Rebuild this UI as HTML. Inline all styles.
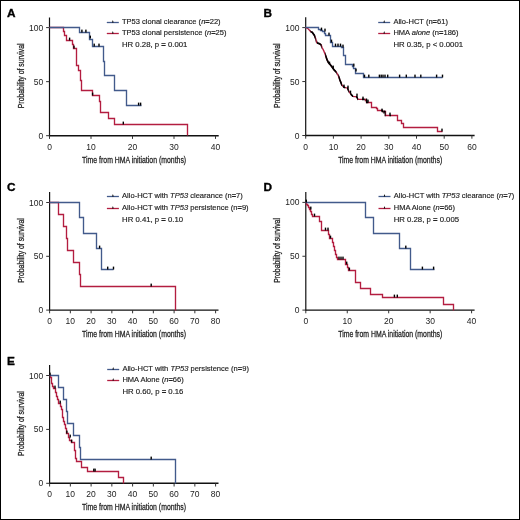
<!DOCTYPE html><html><head><meta charset="utf-8"><style>
html,body{margin:0;padding:0;background:#fff}
svg{display:block;will-change:transform} text{font-family:'Liberation Sans',sans-serif;fill:#222} .tk{font-size:8.5px} .ti{font-size:9.6px;stroke:#222;stroke-width:0.28px} .lg{font-size:7.7px;stroke:#222;stroke-width:0.16px} .pl{font-size:11.8px;font-weight:bold;fill:#000;stroke:#000;stroke-width:0.35px}
</style></head><body>
<svg width="520" height="520" viewBox="0 0 520 520">
<rect x="0.5" y="0.5" width="519" height="519" fill="#fff" stroke="#000" stroke-width="1"/>
<text x="7.1" y="17" class="pl">A</text>
<path d="M49.5,17.5V136.4" stroke="#111" stroke-width="1.2" fill="none"/>
<path d="M48.9,135.7H218.7" stroke="#111" stroke-width="1.45" fill="none"/>
<path d="M46.1,135.7H49.5" stroke="#333" stroke-width="1"/>
<path d="M46.1,81.65H49.5" stroke="#333" stroke-width="1"/>
<path d="M46.1,27.6H49.5" stroke="#333" stroke-width="1"/>
<path d="M49.5,135.7V138.9" stroke="#333" stroke-width="1"/>
<text x="49.5" y="149.7" text-anchor="middle" class="tk">0</text>
<path d="M91,135.7V138.9" stroke="#333" stroke-width="1"/>
<text x="91" y="149.7" text-anchor="middle" class="tk">10</text>
<path d="M132.5,135.7V138.9" stroke="#333" stroke-width="1"/>
<text x="132.5" y="149.7" text-anchor="middle" class="tk">20</text>
<path d="M174,135.7V138.9" stroke="#333" stroke-width="1"/>
<text x="174" y="149.7" text-anchor="middle" class="tk">30</text>
<path d="M215.5,135.7V138.9" stroke="#333" stroke-width="1"/>
<text x="215.5" y="149.7" text-anchor="middle" class="tk">40</text>
<text x="43.2" y="138.7" text-anchor="end" class="tk">0</text>
<text x="43.2" y="84.65" text-anchor="end" class="tk">50</text>
<text x="43.2" y="30.6" text-anchor="end" class="tk">100</text>
<text transform="translate(134.1,162.7) scale(0.719,1)" text-anchor="middle" class="ti">Time from HMA initiation (months)</text>
<text transform="translate(23.7,75.85) rotate(-90) scale(0.715,1)" text-anchor="middle" class="ti">Probability of survival</text>
<path d="M49.5,27.5H63.5V31.5H64.5V35.5H66.5V40.5H72.5V44.5H73.5V48.5H76.5V54.5H76.5V65.5H78.5V70.5H80.5V80.5H81.5V90.5H92.5V95.5H99.5V101.5H100.5V112.5H108.5V118.5H114.5V124.5H187.5V135.5" stroke="#b31d40" stroke-width="1.35" fill="none"/>
<path d="M49.5,27.5H79.5V32.5H89.5V39.5H92.5V46.5H103.5V61.5H104.5V75.5H114.5V90.5H126.5V105.5H141.5" stroke="#425a8b" stroke-width="1.35" fill="none"/>
<rect x="81.2" y="29.6" width="1.4" height="2.9" fill="#000"/>
<rect x="85.2" y="29.6" width="1.4" height="2.9" fill="#000"/>
<rect x="89.6" y="35.6" width="1.4" height="2.9" fill="#000"/>
<rect x="93.5" y="43.6" width="1.4" height="2.9" fill="#000"/>
<rect x="98.3" y="43.6" width="1.4" height="2.9" fill="#000"/>
<rect x="137.9" y="102.6" width="1.4" height="2.9" fill="#000"/>
<rect x="139.9" y="102.6" width="1.4" height="2.9" fill="#000"/>
<rect x="68.9" y="37.6" width="1.4" height="2.9" fill="#000"/>
<rect x="73.3" y="45.6" width="1.4" height="2.9" fill="#000"/>
<rect x="91.9" y="92.6" width="1.4" height="2.9" fill="#000"/>
<rect x="122.6" y="121.6" width="1.4" height="2.9" fill="#000"/>
<path d="M106.8,22.5H118.8" stroke="#425a8b" stroke-width="1.3"/>
<path d="M112,22.5L112.8,19.9L113.6,22.5Z" fill="#000"/>
<text transform="translate(122,23.7) scale(0.98,1)" class="lg">TP53 clonal clearance (<tspan font-style="italic">n</tspan><tspan font-weight="bold">=</tspan>22)</text>
<path d="M106.8,33.5H118.8" stroke="#b31d40" stroke-width="1.3"/>
<path d="M112,33.5L112.8,30.9L113.6,33.5Z" fill="#000"/>
<text transform="translate(122,35.3) scale(0.98,1)" class="lg">TP53 clonal persistence (<tspan font-style="italic">n</tspan><tspan font-weight="bold">=</tspan>25)</text>
<text transform="translate(122,47.1) scale(1.01,1)" class="lg">HR 0.28, p <tspan font-weight="bold">=</tspan> 0.001</text>
<text x="263.5" y="17" class="pl">B</text>
<path d="M305.7,17.3V136.2" stroke="#111" stroke-width="1.2" fill="none"/>
<path d="M305.1,135.5H474.6" stroke="#111" stroke-width="1.45" fill="none"/>
<path d="M302.3,135.5H305.7" stroke="#333" stroke-width="1"/>
<path d="M302.3,81.55H305.7" stroke="#333" stroke-width="1"/>
<path d="M302.3,27.6H305.7" stroke="#333" stroke-width="1"/>
<path d="M305.7,135.5V138.7" stroke="#333" stroke-width="1"/>
<text x="305.7" y="149.5" text-anchor="middle" class="tk">0</text>
<path d="M333.4,135.5V138.7" stroke="#333" stroke-width="1"/>
<text x="333.4" y="149.5" text-anchor="middle" class="tk">10</text>
<path d="M361.1,135.5V138.7" stroke="#333" stroke-width="1"/>
<text x="361.1" y="149.5" text-anchor="middle" class="tk">20</text>
<path d="M388.8,135.5V138.7" stroke="#333" stroke-width="1"/>
<text x="388.8" y="149.5" text-anchor="middle" class="tk">30</text>
<path d="M416.5,135.5V138.7" stroke="#333" stroke-width="1"/>
<text x="416.5" y="149.5" text-anchor="middle" class="tk">40</text>
<path d="M444.2,135.5V138.7" stroke="#333" stroke-width="1"/>
<text x="444.2" y="149.5" text-anchor="middle" class="tk">50</text>
<path d="M471.9,135.5V138.7" stroke="#333" stroke-width="1"/>
<text x="471.9" y="149.5" text-anchor="middle" class="tk">60</text>
<text x="299.4" y="138.5" text-anchor="end" class="tk">0</text>
<text x="299.4" y="84.55" text-anchor="end" class="tk">50</text>
<text x="299.4" y="30.6" text-anchor="end" class="tk">100</text>
<text transform="translate(390.15,162.5) scale(0.719,1)" text-anchor="middle" class="ti">Time from HMA initiation (months)</text>
<text transform="translate(279.9,75.75) rotate(-90) scale(0.715,1)" text-anchor="middle" class="ti">Probability of survival</text>
<path d="M305.5,27.5L308.4,29 L310.7,31.7 L312.2,32.3 L314.5,35.5 L315.7,38.6 L316.8,42.8 L319.2,43.6 L321.1,44.8 L322.2,47.8 L323.8,50.9 L325.3,54.8 L326.9,59.4 L328.4,62.5 L329.9,64.2 L331.7,66.5 L334.1,69.9 L336.5,72.3 L338.5,76.2 L339.9,80 L341.8,84.8 L343.8,87.2 L347.6,88.2 L349,91.5 L351,94.4 L352.9,96.3 L356.7,96.8 L358.2,99.4H365.5V100.5H366.5V102.5H371.5V107.5H376.5V108.5H377.5V110.5H382.5V111.5H385.5V115.5H397.5V120.5H401.5V123.5H403.5V127.5H437.5V131.5H442.5" stroke="#b31d40" stroke-width="1.35" fill="none"/>
<path d="M305.5,27.5H318.5V29.5H320.5V30.5H322.5V31.5H324.5V33.5H325.5V35.5H330.5V42.5H332.5V46.5H341.5V47.5H343.5V55.5H345.5V61.5H345.5V64.5H352.5V66.5H353.5V68.5H355.5V73.5H363.5V77.5H442.5" stroke="#425a8b" stroke-width="1.35" fill="none"/>
<clipPath id="cb"><rect x="310.5" y="20" width="5.1" height="120"/><rect x="316.9" y="20" width="4.7" height="120"/><rect x="325.2" y="20" width="11.4" height="120"/><rect x="338.4" y="20" width="3.8" height="120"/><rect x="343.2" y="20" width="2" height="120"/><rect x="347" y="20" width="1.8" height="120"/><rect x="350.3" y="20" width="2.9" height="120"/><rect x="356" y="20" width="2" height="120"/><rect x="362" y="20" width="2.5" height="120"/><rect x="366" y="20" width="2.3" height="120"/><rect x="381.3" y="20" width="1.7" height="120"/><rect x="384" y="20" width="1.6" height="120"/><rect x="389.5" y="20" width="1.5" height="120"/></clipPath>
<path d="M305.5,27.5L308.4,29 L310.7,31.7 L312.2,32.3 L314.5,35.5 L315.7,38.6 L316.8,42.8 L319.2,43.6 L321.1,44.8 L322.2,47.8 L323.8,50.9 L325.3,54.8 L326.9,59.4 L328.4,62.5 L329.9,64.2 L331.7,66.5 L334.1,69.9 L336.5,72.3 L338.5,76.2 L339.9,80 L341.8,84.8 L343.8,87.2 L347.6,88.2 L349,91.5 L351,94.4 L352.9,96.3 L356.7,96.8 L358.2,99.4H365.5V100.5H366.5V102.5H371.5V107.5H376.5V108.5H377.5V110.5H382.5V111.5H385.5V115.5H397.5V120.5H401.5V123.5H403.5V127.5H437.5V131.5H442.5" stroke="#000" stroke-width="1.7" fill="none" clip-path="url(#cb)"/>
<rect x="320.8" y="27.6" width="1.4" height="2.9" fill="#000"/>
<rect x="324.3" y="28.6" width="1.4" height="2.9" fill="#000"/>
<rect x="328.3" y="32.6" width="1.4" height="2.9" fill="#000"/>
<rect x="330.8" y="39.6" width="1.4" height="2.9" fill="#000"/>
<rect x="334.8" y="43.6" width="1.4" height="2.9" fill="#000"/>
<rect x="337.3" y="43.6" width="1.4" height="2.9" fill="#000"/>
<rect x="339.8" y="43.6" width="1.4" height="2.9" fill="#000"/>
<rect x="342.3" y="44.6" width="1.4" height="2.9" fill="#000"/>
<rect x="353.1" y="63.6" width="1.4" height="2.9" fill="#000"/>
<rect x="355.3" y="68.6" width="1.4" height="2.9" fill="#000"/>
<rect x="363.8" y="74.6" width="1.4" height="2.9" fill="#000"/>
<rect x="368.1" y="74.6" width="1.4" height="2.9" fill="#000"/>
<rect x="378.7" y="74.6" width="1.4" height="2.9" fill="#000"/>
<rect x="380.5" y="74.6" width="1.4" height="2.9" fill="#000"/>
<rect x="382.3" y="74.6" width="1.4" height="2.9" fill="#000"/>
<rect x="384.3" y="74.6" width="1.4" height="2.9" fill="#000"/>
<rect x="387" y="74.6" width="1.4" height="2.9" fill="#000"/>
<rect x="398.9" y="74.6" width="1.4" height="2.9" fill="#000"/>
<rect x="405.6" y="74.6" width="1.4" height="2.9" fill="#000"/>
<rect x="414.3" y="74.6" width="1.4" height="2.9" fill="#000"/>
<rect x="420.1" y="74.6" width="1.4" height="2.9" fill="#000"/>
<rect x="435.9" y="74.6" width="1.4" height="2.9" fill="#000"/>
<rect x="441.8" y="74.6" width="1.4" height="2.9" fill="#000"/>
<rect x="328.8" y="61.6" width="1.4" height="2.9" fill="#000"/>
<rect x="332.5" y="65.6" width="1.4" height="2.9" fill="#000"/>
<rect x="343.3" y="84.6" width="1.4" height="2.9" fill="#000"/>
<rect x="347.3" y="85.6" width="1.4" height="2.9" fill="#000"/>
<rect x="349.8" y="90.6" width="1.4" height="2.9" fill="#000"/>
<rect x="356.3" y="93.6" width="1.4" height="2.9" fill="#000"/>
<rect x="362.3" y="96.6" width="1.4" height="2.9" fill="#000"/>
<rect x="365.8" y="98.6" width="1.4" height="2.9" fill="#000"/>
<rect x="367.3" y="99.6" width="1.4" height="2.9" fill="#000"/>
<rect x="381.3" y="108.6" width="1.4" height="2.9" fill="#000"/>
<rect x="383.3" y="110.6" width="1.4" height="2.9" fill="#000"/>
<rect x="389.3" y="112.6" width="1.4" height="2.9" fill="#000"/>
<rect x="441.3" y="128.6" width="1.4" height="2.9" fill="#000"/>
<path d="M378.2,22.5H390.2" stroke="#425a8b" stroke-width="1.3"/>
<path d="M383.4,22.5L384.2,19.9L385,22.5Z" fill="#000"/>
<text transform="translate(393.4,23.6) scale(0.98,1)" class="lg">Allo-HCT (n<tspan font-weight="bold">=</tspan>61)</text>
<path d="M378.2,33.5H390.2" stroke="#b31d40" stroke-width="1.3"/>
<path d="M383.4,33.5L384.2,30.9L385,33.5Z" fill="#000"/>
<text transform="translate(393.4,35.2) scale(0.98,1)" class="lg">HMA <tspan font-style="italic">alone</tspan> (n<tspan font-weight="bold">=</tspan>186)</text>
<text transform="translate(393.4,47) scale(1.01,1)" class="lg">HR 0.35, p &lt; 0.0001</text>
<text x="7.1" y="191.2" class="pl">C</text>
<path d="M49.6,191.9V310.8" stroke="#111" stroke-width="1.2" fill="none"/>
<path d="M49,310.1H218.5" stroke="#111" stroke-width="1.45" fill="none"/>
<path d="M46.2,310.1H49.6" stroke="#333" stroke-width="1"/>
<path d="M46.2,256.3H49.6" stroke="#333" stroke-width="1"/>
<path d="M46.2,202.5H49.6" stroke="#333" stroke-width="1"/>
<path d="M49.6,310.1V313.3" stroke="#333" stroke-width="1"/>
<text x="49.6" y="324.1" text-anchor="middle" class="tk">0</text>
<path d="M70.35,310.1V313.3" stroke="#333" stroke-width="1"/>
<text x="70.35" y="324.1" text-anchor="middle" class="tk">10</text>
<path d="M91.1,310.1V313.3" stroke="#333" stroke-width="1"/>
<text x="91.1" y="324.1" text-anchor="middle" class="tk">20</text>
<path d="M111.85,310.1V313.3" stroke="#333" stroke-width="1"/>
<text x="111.85" y="324.1" text-anchor="middle" class="tk">30</text>
<path d="M132.6,310.1V313.3" stroke="#333" stroke-width="1"/>
<text x="132.6" y="324.1" text-anchor="middle" class="tk">40</text>
<path d="M153.35,310.1V313.3" stroke="#333" stroke-width="1"/>
<text x="153.35" y="324.1" text-anchor="middle" class="tk">50</text>
<path d="M174.1,310.1V313.3" stroke="#333" stroke-width="1"/>
<text x="174.1" y="324.1" text-anchor="middle" class="tk">60</text>
<path d="M194.85,310.1V313.3" stroke="#333" stroke-width="1"/>
<text x="194.85" y="324.1" text-anchor="middle" class="tk">70</text>
<path d="M215.6,310.1V313.3" stroke="#333" stroke-width="1"/>
<text x="215.6" y="324.1" text-anchor="middle" class="tk">80</text>
<text x="43.3" y="313.1" text-anchor="end" class="tk">0</text>
<text x="43.3" y="259.3" text-anchor="end" class="tk">50</text>
<text x="43.3" y="205.5" text-anchor="end" class="tk">100</text>
<text transform="translate(134.05,337.1) scale(0.719,1)" text-anchor="middle" class="ti">Time from HMA initiation (months)</text>
<text transform="translate(23.8,250.5) rotate(-90) scale(0.715,1)" text-anchor="middle" class="ti">Probability of survival</text>
<path d="M49.5,202.5H58.5V214.5H63.5V226.5H66.5V238.5H67.5V250.5H73.5V262.5H79.5V274.5H80.5V286.5H175.5V310.5" stroke="#b31d40" stroke-width="1.35" fill="none"/>
<path d="M49.5,202.5H79.5V217.5H83.5V233.5H96.5V248.5H101.5V269.5H113.5" stroke="#425a8b" stroke-width="1.35" fill="none"/>
<rect x="98.9" y="245.6" width="1.4" height="2.9" fill="#000"/>
<rect x="107" y="266.6" width="1.4" height="2.9" fill="#000"/>
<rect x="112.8" y="266.6" width="1.4" height="2.9" fill="#000"/>
<rect x="150.5" y="283.6" width="1.4" height="2.9" fill="#000"/>
<path d="M106.9,196.5H118.9" stroke="#425a8b" stroke-width="1.3"/>
<path d="M112.1,196.5L112.9,193.9L113.7,196.5Z" fill="#000"/>
<text transform="translate(122.1,198.1) scale(0.98,1)" class="lg">Allo-HCT with <tspan font-style="italic">TP53</tspan> clearance (n<tspan font-weight="bold">=</tspan>7)</text>
<path d="M106.9,208.5H118.9" stroke="#b31d40" stroke-width="1.3"/>
<path d="M112.1,208.5L112.9,205.9L113.7,208.5Z" fill="#000"/>
<text transform="translate(122.1,209.7) scale(0.98,1)" class="lg">Allo-HCT with <tspan font-style="italic">TP53</tspan> persistence (n<tspan font-weight="bold">=</tspan>9)</text>
<text transform="translate(122.1,221.5) scale(1.01,1)" class="lg">HR 0.41, p <tspan font-weight="bold">=</tspan> 0.10</text>
<text x="263.5" y="191.2" class="pl">D</text>
<path d="M305.8,191.9V310.8" stroke="#111" stroke-width="1.2" fill="none"/>
<path d="M305.2,310.1H474.6" stroke="#111" stroke-width="1.45" fill="none"/>
<path d="M302.4,310.1H305.8" stroke="#333" stroke-width="1"/>
<path d="M302.4,256.25H305.8" stroke="#333" stroke-width="1"/>
<path d="M302.4,202.4H305.8" stroke="#333" stroke-width="1"/>
<path d="M305.8,310.1V313.3" stroke="#333" stroke-width="1"/>
<text x="305.8" y="324.1" text-anchor="middle" class="tk">0</text>
<path d="M347.25,310.1V313.3" stroke="#333" stroke-width="1"/>
<text x="347.25" y="324.1" text-anchor="middle" class="tk">10</text>
<path d="M388.7,310.1V313.3" stroke="#333" stroke-width="1"/>
<text x="388.7" y="324.1" text-anchor="middle" class="tk">20</text>
<path d="M430.15,310.1V313.3" stroke="#333" stroke-width="1"/>
<text x="430.15" y="324.1" text-anchor="middle" class="tk">30</text>
<path d="M471.6,310.1V313.3" stroke="#333" stroke-width="1"/>
<text x="471.6" y="324.1" text-anchor="middle" class="tk">40</text>
<text x="299.5" y="313.1" text-anchor="end" class="tk">0</text>
<text x="299.5" y="259.25" text-anchor="end" class="tk">50</text>
<text x="299.5" y="205.4" text-anchor="end" class="tk">100</text>
<text transform="translate(390.2,337.1) scale(0.719,1)" text-anchor="middle" class="ti">Time from HMA initiation (months)</text>
<text transform="translate(280,250.45) rotate(-90) scale(0.715,1)" text-anchor="middle" class="ti">Probability of survival</text>
<path d="M305.5,202.5H306.5V204.5H307.5V205.5H308.5V207.5H309.5V209.5H310.5V211.5H311.5V214.5H312.5V216.5H319.5V221.5H321.5V226.5H321.5V230.5H328.5V234.5H329.5V238.5H332.5V242.5H333.5V246.5H334.5V250.5H335.5V254.5H336.5V257.5H337.5V259.5H345.5V264.5H347.5V267.5H348.5V270.5H355.5V282.5H360.5V288.5H370.5V294.5H382.5V297.5H443.5V304.5H453.5V310.5" stroke="#b31d40" stroke-width="1.35" fill="none"/>
<path d="M305.5,202.5H365.5V217.5H373.5V233.5H399.5V248.5H410.5V269.5H434.5" stroke="#425a8b" stroke-width="1.35" fill="none"/>
<rect x="305.6" y="199.6" width="1.4" height="2.9" fill="#000"/>
<rect x="310.1" y="206.6" width="1.4" height="2.9" fill="#000"/>
<rect x="313.8" y="213.6" width="1.4" height="2.9" fill="#000"/>
<rect x="324.8" y="227.6" width="1.4" height="2.9" fill="#000"/>
<rect x="327.3" y="227.6" width="1.4" height="2.9" fill="#000"/>
<rect x="329.8" y="235.6" width="1.4" height="2.9" fill="#000"/>
<rect x="338.3" y="256.6" width="1.4" height="2.9" fill="#000"/>
<rect x="340.3" y="256.6" width="1.4" height="2.9" fill="#000"/>
<rect x="342.3" y="256.6" width="1.4" height="2.9" fill="#000"/>
<rect x="346" y="261.6" width="1.4" height="2.9" fill="#000"/>
<rect x="348.7" y="267.6" width="1.4" height="2.9" fill="#000"/>
<rect x="393.7" y="294.6" width="1.4" height="2.9" fill="#000"/>
<rect x="396.6" y="294.6" width="1.4" height="2.9" fill="#000"/>
<rect x="405.1" y="245.6" width="1.4" height="2.9" fill="#000"/>
<rect x="421.7" y="266.6" width="1.4" height="2.9" fill="#000"/>
<rect x="432.9" y="266.6" width="1.4" height="2.9" fill="#000"/>
<path d="M378.5,196.5H390.5" stroke="#425a8b" stroke-width="1.3"/>
<path d="M383.7,196.5L384.5,193.9L385.3,196.5Z" fill="#000"/>
<text transform="translate(393.7,198.2) scale(0.98,1)" class="lg">Allo-HCT with <tspan font-style="italic">TP53</tspan> clearance (<tspan font-style="italic">n</tspan><tspan font-weight="bold">=</tspan>7)</text>
<path d="M378.5,208.5H390.5" stroke="#b31d40" stroke-width="1.3"/>
<path d="M383.7,208.5L384.5,205.9L385.3,208.5Z" fill="#000"/>
<text transform="translate(393.7,209.8) scale(0.98,1)" class="lg">HMA Alone (<tspan font-style="italic">n</tspan><tspan font-weight="bold">=</tspan>66)</text>
<text transform="translate(393.7,221.6) scale(1.01,1)" class="lg">HR 0.28, p <tspan font-weight="bold">=</tspan> 0.005</text>
<text x="7.1" y="365" class="pl">E</text>
<path d="M49.6,365V484" stroke="#111" stroke-width="1.2" fill="none"/>
<path d="M49,483.3H218.5" stroke="#111" stroke-width="1.45" fill="none"/>
<path d="M46.2,483.3H49.6" stroke="#333" stroke-width="1"/>
<path d="M46.2,429.4H49.6" stroke="#333" stroke-width="1"/>
<path d="M46.2,375.5H49.6" stroke="#333" stroke-width="1"/>
<path d="M49.6,483.3V486.5" stroke="#333" stroke-width="1"/>
<text x="49.6" y="497.3" text-anchor="middle" class="tk">0</text>
<path d="M70.35,483.3V486.5" stroke="#333" stroke-width="1"/>
<text x="70.35" y="497.3" text-anchor="middle" class="tk">10</text>
<path d="M91.1,483.3V486.5" stroke="#333" stroke-width="1"/>
<text x="91.1" y="497.3" text-anchor="middle" class="tk">20</text>
<path d="M111.85,483.3V486.5" stroke="#333" stroke-width="1"/>
<text x="111.85" y="497.3" text-anchor="middle" class="tk">30</text>
<path d="M132.6,483.3V486.5" stroke="#333" stroke-width="1"/>
<text x="132.6" y="497.3" text-anchor="middle" class="tk">40</text>
<path d="M153.35,483.3V486.5" stroke="#333" stroke-width="1"/>
<text x="153.35" y="497.3" text-anchor="middle" class="tk">50</text>
<path d="M174.1,483.3V486.5" stroke="#333" stroke-width="1"/>
<text x="174.1" y="497.3" text-anchor="middle" class="tk">60</text>
<path d="M194.85,483.3V486.5" stroke="#333" stroke-width="1"/>
<text x="194.85" y="497.3" text-anchor="middle" class="tk">70</text>
<path d="M215.6,483.3V486.5" stroke="#333" stroke-width="1"/>
<text x="215.6" y="497.3" text-anchor="middle" class="tk">80</text>
<text x="43.3" y="486.3" text-anchor="end" class="tk">0</text>
<text x="43.3" y="432.4" text-anchor="end" class="tk">50</text>
<text x="43.3" y="378.5" text-anchor="end" class="tk">100</text>
<text transform="translate(134.05,510.3) scale(0.719,1)" text-anchor="middle" class="ti">Time from HMA initiation (months)</text>
<text transform="translate(23.8,423.6) rotate(-90) scale(0.715,1)" text-anchor="middle" class="ti">Probability of survival</text>
<path d="M49.5,375.5H50.5V377.5H51.5V380.5H51.5V383.5H52.5V386.5H53.5V388.5H55.5V392.5H56.5V396.5H57.5V399.5H58.5V403.5H60.5V406.5H61.5V409.5H62.5V413.5H62.5V417.5H63.5V421.5H64.5V424.5H65.5V428.5H66.5V433.5H68.5V437.5H69.5V440.5H71.5V442.5H74.5V450.5H75.5V454.5H75.5V458.5H76.5V461.5H81.5V467.5H87.5V471.5H118.5V477.5H123.5V483.5" stroke="#b31d40" stroke-width="1.35" fill="none"/>
<path d="M49.5,375.5H58.5V387.5H63.5V399.5H66.5V411.5H67.5V423.5H73.5V435.5H79.5V447.5H80.5V459.5H175.5V483.5" stroke="#425a8b" stroke-width="1.35" fill="none"/>
<rect x="49.3" y="372.6" width="1.4" height="2.9" fill="#000"/>
<rect x="54.3" y="385.6" width="1.4" height="2.9" fill="#000"/>
<rect x="59.5" y="400.6" width="1.4" height="2.9" fill="#000"/>
<rect x="66.2" y="430.6" width="1.4" height="2.9" fill="#000"/>
<rect x="69.5" y="434.6" width="1.4" height="2.9" fill="#000"/>
<rect x="70.9" y="439.6" width="1.4" height="2.9" fill="#000"/>
<rect x="93.1" y="468.6" width="1.4" height="2.9" fill="#000"/>
<rect x="94.4" y="468.6" width="1.4" height="2.9" fill="#000"/>
<rect x="150.5" y="456.6" width="1.4" height="2.9" fill="#000"/>
<path d="M107.2,369.5H119.2" stroke="#425a8b" stroke-width="1.3"/>
<path d="M112.4,369.5L113.2,366.9L114,369.5Z" fill="#000"/>
<text transform="translate(122.4,370.7) scale(0.98,1)" class="lg">Allo-HCT with <tspan font-style="italic">TP53</tspan> persistence (n<tspan font-weight="bold">=</tspan>9)</text>
<path d="M107.2,380.5H119.2" stroke="#b31d40" stroke-width="1.3"/>
<path d="M112.4,380.5L113.2,377.9L114,380.5Z" fill="#000"/>
<text transform="translate(122.4,382.3) scale(0.98,1)" class="lg">HMA Alone (<tspan font-style="italic">n</tspan><tspan font-weight="bold">=</tspan>66)</text>
<text transform="translate(122.4,394.1) scale(1.01,1)" class="lg">HR 0.60, p <tspan font-weight="bold">=</tspan> 0.16</text>
</svg></body></html>
